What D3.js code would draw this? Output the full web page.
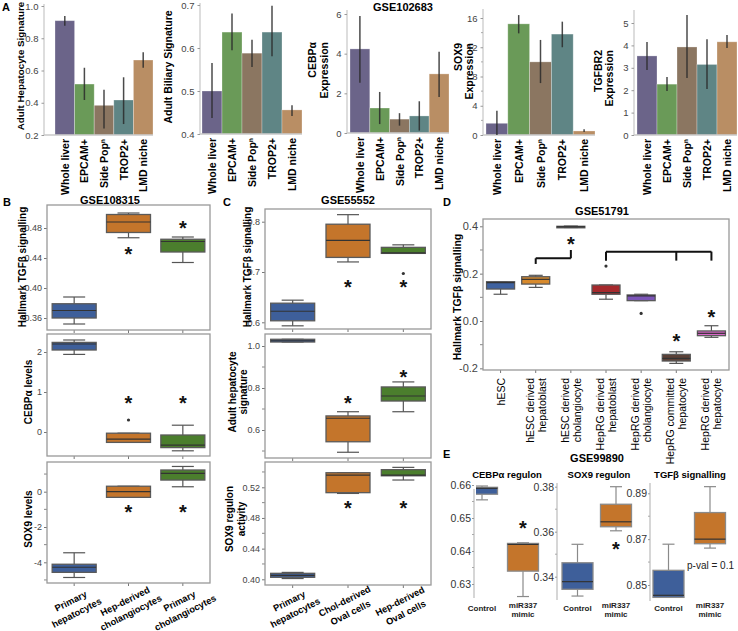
<!DOCTYPE html>
<html><head><meta charset="utf-8">
<script src="https://cdn.jsdelivr.net/npm/d3@7"></script>
<style>body{margin:0;background:#fff}svg{display:block}</style>
</head><body><svg id="c" width="738" height="631"></svg>
<script>
// ================= DATA =================
// Panel A (GSE102683) bar charts: value, lower error, upper error
const aCats = ["Whole liver","EPCAM+","Side Popⁿ","TROP2+","LMD niche"];
const aHepVal = [0.909,0.516,0.384,0.417,0.665];
const aHepLo  = [0.878,0.417,0.241,0.268,0.617];
const aHepHi  = [0.938,0.617,0.480,0.558,0.713];
const aBilVal = [0.500,0.637,0.588,0.637,0.456];
const aBilLo  = [0.437,0.595,0.556,0.581,0.442];
const aBilHi  = [0.565,0.680,0.619,0.698,0.467];
const aCebVal = [4.24,1.26,0.70,0.86,2.98];
const aCebLo  = [2.53,0.45,0.37,0.12,1.82];
const aCebHi  = [5.90,2.07,1.00,1.60,4.10];
const aSoxVal = [1.6,15.2,10.0,13.8,0.55];
const aSoxLo  = [0.0,13.9,7.1,12.0,0.40];
const aSoxHi  = [3.3,16.4,13.0,15.5,0.80];
const aTgfVal = [3.53,2.27,3.93,3.15,4.16];
const aTgfLo  = [2.90,1.96,2.54,2.05,3.88];
const aTgfHi  = [4.15,2.59,5.36,4.28,4.46];
const aHepTicks = [0.2,0.4,0.6,0.8,1.0];
const aBilTicks = [0.4,0.5,0.6,0.7];
const aCebTicks = [0,2,4,6];
const aSoxTicks = [0,4,8,12,16];
const aSoxMinor = [2,6,10,14];
const aTgfTicks = [0,1,2,3,4,5];

// Panel B (GSE108315) boxes: [min, q1, median, q3, max]
const bCats = ["Primary hepatocytes","Hep-derived cholangiocytes","Primary cholangiocytes"];
const bTgf = [[0.352,0.360,0.370,0.379,0.388],[0.467,0.474,0.488,0.498,0.500],[0.434,0.448,0.462,0.465,0.468]];
const bTgfStars = [null,0.451,0.485];
const bTgfTicks = [0.36,0.40,0.44,0.48];
const bCeb = [[1.94,2.05,2.20,2.24,2.30],[-0.26,-0.26,-0.18,-0.03,-0.03],[-0.47,-0.39,-0.33,-0.075,0.17]];
const bCebOut = [null,0.30,null];
const bCebStars = [null,0.83,0.83];
const bCebTicks = [0,1,2];
const bSox = [[-4.86,-4.57,-4.28,-4.11,-3.46],[-0.32,-0.32,0.0,0.31,0.31],[0.28,0.66,1.04,1.23,1.43]];
const bSoxStars = [null,-0.92,-0.92];
const bSoxTicks = [-4,-2,0];
const bSoxMinor = [-5,-3,-1,1];

// Panel C (GSE55552)
const cCats = ["Primary hepatocytes","Chol-derived Oval cells","Hep-derived Oval cells"];
const cTgf = [[0.593,0.603,0.622,0.638,0.644],[0.720,0.729,0.763,0.795,0.814],[0.737,0.737,0.738,0.749,0.754]];
const cTgfOut = [null,null,0.697];
const cTgfStars = [null,0.678,0.678];
const cTgfTicks = [0.6,0.7,0.8];
const cHep = [[1.019,1.019,1.025,1.032,1.032],[0.494,0.544,0.656,0.667,0.687],[0.687,0.738,0.762,0.805,0.829]];
const cHepStars = [null,0.746,0.871];
const cHepTicks = [0.6,0.8,1.0];
const cHepMinor = [0.5,0.7,0.9];
const cSox = [[0.401,0.4026,0.405,0.4078,0.409],[0.512,0.513,0.536,0.539,0.539],[0.5295,0.535,0.536,0.543,0.546]];
const cSoxStars = [null,0.498,0.498];
const cSoxTicks = [0.40,0.44,0.48,0.52];
const cSoxMinor = [0.42,0.46,0.50,0.54];

// Panel D (GSE51791)
const dCats = ["hESC","hESC derived hepatoblast","hESC derived cholangiocyte","HepRG derived hepatoblast","HepRG derived cholangiocyte","HepRG committed hepatocyte","HepRG derived hepatocyte"];
const dBox = [[0.113,0.135,0.162,0.166,0.166],[0.142,0.156,0.176,0.187,0.193],[0.395,0.396,0.398,0.400,0.401],[0.092,0.113,0.120,0.152,0.152],[0.086,0.086,0.106,0.110,0.113],[-0.179,-0.169,-0.158,-0.141,-0.130],[-0.069,-0.062,-0.052,-0.042,-0.020]];
const dOut = [null,null,null,0.232,0.032,null,null];
const dStars = [null,null,0.342,null,null,-0.066,0.033];
const dTicks = [-0.2,0.0,0.2,0.4];
const dMinor = [-0.1,0.1,0.3];
const dBracket1 = {cats:[1,2], level:0.265, ends:[0.241,0.300]};
const dBracket2 = {cats:[3,5,6], level:0.293, ends:[0.255,0.255,0.255]};

// Panel E (GSE99890)
const eCats = ["Control","miR337 mimic"];
const eCeb = [[0.6555,0.6572,0.6590,0.6593,0.6597],[0.6262,0.6339,0.6420,0.6423,0.6425]];
const eCebStars = [null,0.6481];
const eCebTicks = [0.63,0.64,0.65,0.66];
const eCebMinor = [0.635,0.645,0.655];
const eSox = [[0.3314,0.3344,0.3378,0.3462,0.3544],[0.3604,0.3622,0.3644,0.3722,0.3800]];
const eSoxStars = [null,0.3541];
const eSoxTicks = [0.34,0.36,0.38];
const eSoxMinor = [0.35,0.37];
const eTgf = [[0.8446,0.8446,0.8455,0.8564,0.8678],[0.8661,0.8680,0.8700,0.8816,0.8929]];
const eTgfTicks = [0.85,0.87,0.89];
const eTgfMinor = [0.86,0.88];

// ================= STYLE =================
const FONT = "'Liberation Sans', Arial, Helvetica, sans-serif";
const aColors = ["#6b6489","#6a9a58","#8b7661","#5f8585","#b98e64"];
const bColors = ["#3e5f9a","#c4752b","#4b7e2d"];
const dColors = ["#3f62a0","#d88a2c","#4a4a4a","#a6292d","#7c55b8","#5b4036","#d865c8"];
const eColors = ["#3e5f9a","#c4752b"];
const svg = d3.select("#c");
const fmtMinus = f => v => f(v).replace("\u2212","-");

function T(x,y,s,o={}){
  const t = svg.append("text").attr("x",x).attr("y",y).text(s)
    .attr("font-family",FONT).attr("font-size",o.size||10)
    .attr("font-weight",o.bold?"bold":"normal").attr("fill",o.fill||"#000")
    .attr("text-anchor",o.anchor||"start");
  if(o.rot) t.attr("transform",`rotate(${o.rot},${x},${y})`);
  return t;
}
function star(g,x,y){
  g.append("text").attr("x",x).attr("y",y+11).text("*").attr("font-family",FONT)
   .attr("font-size",20).attr("font-weight","bold").attr("text-anchor","middle").attr("fill","#111");
}

// ================= PANEL A =================
function barPanel(p){
  const g = svg.append("g");
  const x = d3.scaleBand().domain(aCats).range(p.xr);
  const y = d3.scaleLinear().domain(p.dom).range(p.yr);
  const base = y(p.dom[0]);
  g.append("line").attr("x1",p.ax).attr("x2",p.ax).attr("y1",base).attr("y2",p.top)
    .attr("stroke","#d2d2d2").attr("stroke-width",1.5);
  const ag = g.append("g").attr("transform",`translate(${p.ax},0)`)
    .call(d3.axisLeft(y).tickValues(p.ticks).tickFormat(p.fmt).tickSize(2.5).tickPadding(3));
  ag.select(".domain").remove();
  ag.attr("font-family",FONT).attr("font-size",9.5);
  ag.selectAll(".tick line").attr("stroke","#999");
  ag.selectAll(".tick text").attr("fill","#444");
  if(p.minor) g.selectAll(null).data(p.minor).join("line")
    .attr("x1",p.ax-2).attr("x2",p.ax).attr("y1",d=>y(d)).attr("y2",d=>y(d)).attr("stroke","#aaa");
  g.selectAll(null).data(p.vals).join("rect")
    .attr("x",(d,i)=>x(aCats[i])).attr("width",x.bandwidth())
    .attr("y",d=>y(d)).attr("height",d=>base-y(d))
    .attr("fill",(d,i)=>aColors[i]).attr("stroke","#fff").attr("stroke-opacity",0.35).attr("stroke-width",0.8);
  g.append("line").attr("x1",p.ax).attr("x2",p.xr[1]).attr("y1",base).attr("y2",base)
    .attr("stroke","#c8c8c8").attr("stroke-width",1.5);
  g.selectAll(null).data(p.vals).join("line")
    .attr("x1",(d,i)=>x(aCats[i])+x.bandwidth()/2).attr("x2",(d,i)=>x(aCats[i])+x.bandwidth()/2)
    .attr("y1",(d,i)=>y(p.lo[i])).attr("y2",(d,i)=>y(p.hi[i]))
    .attr("stroke","#2a2a2a").attr("stroke-opacity",0.85).attr("stroke-width",1.5);
  aCats.forEach(c=>{
    T(x(c)+x.bandwidth()/2+4, base+4, c, {size:10.5,bold:true,anchor:"end",rot:-90});
  });
  p.ylab.lines.forEach((s,i)=>T(p.ylab.xs[i], p.ylab.y, s, {size:p.ylab.size||10.5,bold:true,anchor:p.ylab.anchor,rot:-90}));
}
const f1 = d3.format(".1f"), f0 = d3.format("d");
barPanel({xr:[55,153],ax:44,dom:[0.2,1.0],yr:[135,6],top:4,ticks:aHepTicks,fmt:f1,
  vals:aHepVal,lo:aHepLo,hi:aHepHi,ylab:{lines:["Adult Hepatocyte Signature"],xs:[24],y:66,anchor:"middle",size:9.8}});
barPanel({xr:[202,302],ax:200,dom:[0.4,0.7],yr:[134,5],top:3,ticks:aBilTicks,fmt:f1,
  vals:aBilVal,lo:aBilLo,hi:aBilHi,ylab:{lines:["Adult Biliary Signature"],xs:[172],y:67,anchor:"middle"}});
barPanel({xr:[350,449],ax:347,dom:[0,6],yr:[133,14],top:10,ticks:aCebTicks,fmt:f0,
  vals:aCebVal,lo:aCebLo,hi:aCebHi,ylab:{lines:["CEBPα","Expression"],xs:[316,328],y:42,anchor:"end"}});
barPanel({xr:[486,595],ax:483,dom:[0,16],yr:[135,18],top:9,ticks:aSoxTicks,minor:aSoxMinor,fmt:f0,
  vals:aSoxVal,lo:aSoxLo,hi:aSoxHi,ylab:{lines:["SOX9","Expression"],xs:[462,473],y:43,anchor:"end"}});
barPanel({xr:[637,737],ax:634,dom:[0,5],yr:[135,23],top:10,ticks:aTgfTicks,fmt:f0,
  vals:aTgfVal,lo:aTgfLo,hi:aTgfHi,ylab:{lines:["TGFBR2","Expression"],xs:[602,613],y:50,anchor:"end"}});
T(2,11,"A",{size:11,bold:true});
T(403,11,"GSE102683",{size:11,bold:true,anchor:"middle"});

// ================= BOX HELPERS =================
function drawBoxes(g, cx, y, data, colors, bw, cw, st){
  const s = g.selectAll(null).data(data).join("g");
  s.append("line").attr("x1",(d,i)=>cx(i)).attr("x2",(d,i)=>cx(i)).attr("y1",d=>y(d[0])).attr("y2",d=>y(d[1]))
    .attr("stroke",st.wh).attr("stroke-width",1.2);
  s.append("line").attr("x1",(d,i)=>cx(i)).attr("x2",(d,i)=>cx(i)).attr("y1",d=>y(d[3])).attr("y2",d=>y(d[4]))
    .attr("stroke",st.wh).attr("stroke-width",1.2);
  [0,4].forEach(k=> s.append("line").attr("x1",(d,i)=>cx(i)-cw/2).attr("x2",(d,i)=>cx(i)+cw/2)
    .attr("y1",d=>y(d[k])).attr("y2",d=>y(d[k])).attr("stroke",st.wh).attr("stroke-width",1.2));
  s.append("rect").attr("x",(d,i)=>cx(i)-bw/2).attr("width",bw)
    .attr("y",d=>y(d[3])).attr("height",d=>Math.max(1.5,y(d[1])-y(d[3])))
    .attr("fill",(d,i)=>colors[i]).attr("stroke",st.box).attr("stroke-width",1.3);
  s.append("line").attr("x1",(d,i)=>cx(i)-bw/2).attr("x2",(d,i)=>cx(i)+bw/2)
    .attr("y1",d=>y(d[2])).attr("y2",d=>y(d[2])).attr("stroke",st.med).attr("stroke-width",1.2);
}
function boxPanel(p){
  const g = svg.append("g");
  const x = d3.scaleBand().domain(p.cats).range([p.fr[0],p.fr[2]]);
  const cx = i => x(p.cats[i]) + x.bandwidth()/2;
  const y = d3.scaleLinear().domain(p.dom).range(p.rng);
  const ag = g.append("g").attr("transform",`translate(${p.fr[0]},0)`)
    .call(d3.axisLeft(y).tickValues(p.ticks).tickFormat(fmtMinus(p.fmt)).tickSize(3).tickPadding(2));
  ag.select(".domain").remove();
  ag.attr("font-family",FONT).attr("font-size",p.ts||9);
  ag.selectAll(".tick line").attr("stroke","#777");
  ag.selectAll(".tick text").attr("fill","#444");
  if(p.minor) g.selectAll(null).data(p.minor).join("line")
    .attr("x1",p.fr[0]-3).attr("x2",p.fr[0]).attr("y1",d=>y(d)).attr("y2",d=>y(d)).attr("stroke","#888");
  g.selectAll(null).data(p.cats).join("line").attr("x1",(d,i)=>cx(i)).attr("x2",(d,i)=>cx(i))
    .attr("y1",p.fr[3]).attr("y2",p.fr[3]+3).attr("stroke","#777");
  drawBoxes(g, cx, y, p.data, p.colors, p.bw, p.cw, {wh:"#555",box:"#5a5a5a",med:"#333"});
  if(p.out) p.out.forEach((v,i)=>{ if(v!=null) g.append("circle").attr("cx",cx(i)).attr("cy",y(v)).attr("r",1.6).attr("fill","#333"); });
  if(p.stars) p.stars.forEach((v,i)=>{ if(v!=null) star(g,cx(i),y(v)); });
  g.append("rect").attr("x",p.fr[0]).attr("y",p.fr[1]).attr("width",p.fr[2]-p.fr[0]).attr("height",p.fr[3]-p.fr[1])
    .attr("fill","none").attr("stroke","#999").attr("stroke-width",1.3);
  return {x,cx,y,g};
}
function slantLabels(cats, cx, y0){
  cats.forEach((c,i)=>{
    const k = c.indexOf(" ");
    const lines = [c.slice(0,k), c.slice(k+1)];
    const t = svg.append("text").attr("transform",`translate(${cx(i)-2},${y0}) rotate(-27)`)
      .attr("font-family",FONT).attr("font-size",9.3).attr("font-weight","bold").attr("text-anchor","middle");
    lines.forEach((s,j)=>t.append("tspan").attr("x",0).attr("dy",j?13:0).text(s));
  });
}

// ================= PANEL B =================
const fB2 = d3.format(".2f");
const b1 = boxPanel({cats:bCats,fr:[47,205,210,330],dom:[0.36,0.48],rng:[318,228],ticks:bTgfTicks,fmt:fB2,
  data:bTgf,colors:bColors,bw:44,cw:22,stars:bTgfStars});
boxPanel({cats:bCats,fr:[47,334,210,456],dom:[0,2],rng:[432,352],ticks:bCebTicks,fmt:d3.format("d"),
  data:bCeb,colors:bColors,bw:44,cw:22,out:bCebOut,stars:bCebStars});
boxPanel({cats:bCats,fr:[47,462,210,583],dom:[-4,0],rng:[562.3,491.7],ticks:bSoxTicks,minor:bSoxMinor,fmt:d3.format("d"),
  data:bSox,colors:bColors,bw:44,cw:22,stars:bSoxStars});
slantLabels(bCats, b1.cx, 604);
T(3,206,"B",{size:11,bold:true});
T(110,204,"GSE108315",{size:11,bold:true,anchor:"middle"});
T(26,267,"Hallmark TGFβ signalling",{size:10,bold:true,anchor:"middle",rot:-90});
T(32,392,"CEBPα levels",{size:10,bold:true,anchor:"middle",rot:-90});
T(32,519,"SOX9 levels",{size:10,bold:true,anchor:"middle",rot:-90});

// ================= PANEL C =================
const c1 = boxPanel({cats:cCats,fr:[265,209,431,329],dom:[0.6,0.8],rng:[322.3,221.7],ticks:cTgfTicks,fmt:d3.format(".1f"),
  data:cTgf,colors:bColors,bw:44,cw:22,out:cTgfOut,stars:cTgfStars});
boxPanel({cats:cCats,fr:[265,334,431,458],dom:[0.6,1.0],rng:[430,346],ticks:cHepTicks,minor:cHepMinor,fmt:d3.format(".1f"),
  data:cHep,colors:bColors,bw:44,cw:22,stars:cHepStars});
boxPanel({cats:cCats,fr:[265,462,431,585],dom:[0.4,0.52],rng:[579.3,487.3],ticks:cSoxTicks,minor:cSoxMinor,fmt:d3.format(".2f"),
  data:cSox,colors:bColors,bw:44,cw:22,stars:cSoxStars});
slantLabels(cCats, c1.cx, 604);
T(223,206,"C",{size:11,bold:true});
T(348,204,"GSE55552",{size:11,bold:true,anchor:"middle"});
T(251,267,"Hallmark TGFβ signalling",{size:10,bold:true,anchor:"middle",rot:-90});
T(236,392,"Adult hepatocyte",{size:10,bold:true,anchor:"middle",rot:-90});
T(247,392,"signature",{size:10,bold:true,anchor:"middle",rot:-90});
T(233,519,"SOX9 regulon",{size:10,bold:true,anchor:"middle",rot:-90});
T(245,519,"activity",{size:10,bold:true,anchor:"middle",rot:-90});

// ================= PANEL D =================
const dp = boxPanel({cats:dCats,fr:[483,219,729,370],dom:[0,0.4],rng:[321,226.3],ticks:dTicks,minor:dMinor,
  fmt:d3.format(".1f"),ts:11,data:dBox,colors:dColors,bw:28,cw:14,out:dOut,stars:dStars});
[dBracket1,dBracket2].forEach(b=>{
  const xs = b.cats.map(i=>dp.cx(i));
  dp.g.append("line").attr("x1",d3.min(xs)).attr("x2",d3.max(xs)).attr("y1",dp.y(b.level)).attr("y2",dp.y(b.level))
    .attr("stroke","#111").attr("stroke-width",2);
  b.cats.forEach((c,j)=> dp.g.append("line").attr("x1",dp.cx(c)).attr("x2",dp.cx(c))
    .attr("y1",dp.y(b.level)).attr("y2",dp.y(b.ends[j])).attr("stroke","#111").attr("stroke-width",2));
});
dCats.forEach((c,i)=>{
  const k = c.lastIndexOf(" ");
  const cx = dp.cx(i);
  if(k<0){ T(cx+4,378,c,{size:10.5,anchor:"end",rot:-90}); }
  else {
    T(cx-2,378,c.slice(0,k),{size:10.5,anchor:"end",rot:-90});
    T(cx+10,378,c.slice(k+1),{size:10.5,anchor:"end",rot:-90});
  }
});
T(443,206,"D",{size:11,bold:true});
T(602,215,"GSE51791",{size:11,bold:true,anchor:"middle"});
T(461,297,"Hallmark TGFβ signalling",{size:10.5,bold:true,anchor:"middle",rot:-90});

// ================= PANEL E =================
svg.append("defs").append("clipPath").attr("id","e1clip").append("rect").attr("x",476).attr("y",470).attr("width",120).attr("height",140);
function ePanel(p){
  const g = svg.append("g");
  const y = d3.scaleLinear().domain(p.dom).range(p.rng);
  const x = d3.scalePoint().domain(eCats).range(p.xr);
  const cx = i => x(eCats[i]);
  g.append("line").attr("x1",p.ax).attr("x2",p.ax).attr("y1",p.top).attr("y2",p.bot).attr("stroke","#d6d6d6").attr("stroke-width",2);
  const ag = g.append("g").attr("transform",`translate(${p.ax},0)`)
    .call(d3.axisLeft(y).tickValues(p.ticks).tickFormat(d3.format(".2f")).tickSize(2).tickPadding(1));
  ag.select(".domain").remove();
  ag.attr("font-family",FONT).attr("font-size",10.5);
  ag.selectAll(".tick line").attr("stroke","#999");
  ag.selectAll(".tick text").attr("fill","#333");
  g.selectAll(null).data(p.minor).join("line").attr("x1",p.ax-2).attr("x2",p.ax).attr("y1",d=>y(d)).attr("y2",d=>y(d)).attr("stroke","#aaa");
  const bg = g.append("g");
  if(p.clip) bg.attr("clip-path","url(#e1clip)");
  drawBoxes(bg, cx, y, p.data, eColors, 31, 12, {wh:"#8a8a8a",box:"#8a8a8a",med:"#333"});
  if(p.stars) p.stars.forEach((v,i)=>{ if(v!=null) star(g,cx(i),y(v)); });
  eCats.forEach((c,i)=>{
    const parts = c.split(" ");
    if(parts.length===1) T(cx(i),611,c,{size:8,bold:true,anchor:"middle",fill:"#222"});
    else { T(cx(i),608,parts[0],{size:8,bold:true,anchor:"middle",fill:"#222"});
           T(cx(i),617,parts[1],{size:8,bold:true,anchor:"middle",fill:"#222"}); }
  });
  T(p.tx,478,p.title,{size:9.5,bold:true,anchor:"middle"});
  return {y,x};
}
ePanel({dom:[0.63,0.64],rng:[584,551],xr:[482,523],ax:474,top:489,bot:598,ticks:eCebTicks,minor:eCebMinor,
  data:eCeb,stars:eCebStars,clip:true,title:"CEBPα regulon",tx:507});
ePanel({dom:[0.34,0.38],rng:[576.7,486.7],xr:[577.5,616],ax:557,top:483,bot:600,ticks:eSoxTicks,minor:eSoxMinor,
  data:eSox,stars:eSoxStars,title:"SOX9 regulon",tx:599});
ePanel({dom:[0.85,0.89],rng:[585,493.3],xr:[668.5,710],ax:650,top:483,bot:601,ticks:eTgfTicks,minor:eTgfMinor,
  data:eTgf,title:"TGFβ signalling",tx:690});
T(687,569,"p-val = 0.1",{size:10,fill:"#222"});
T(443,458,"E",{size:11,bold:true});
T(597,462,"GSE99890",{size:11,bold:true,anchor:"middle"});
</script></body></html>
